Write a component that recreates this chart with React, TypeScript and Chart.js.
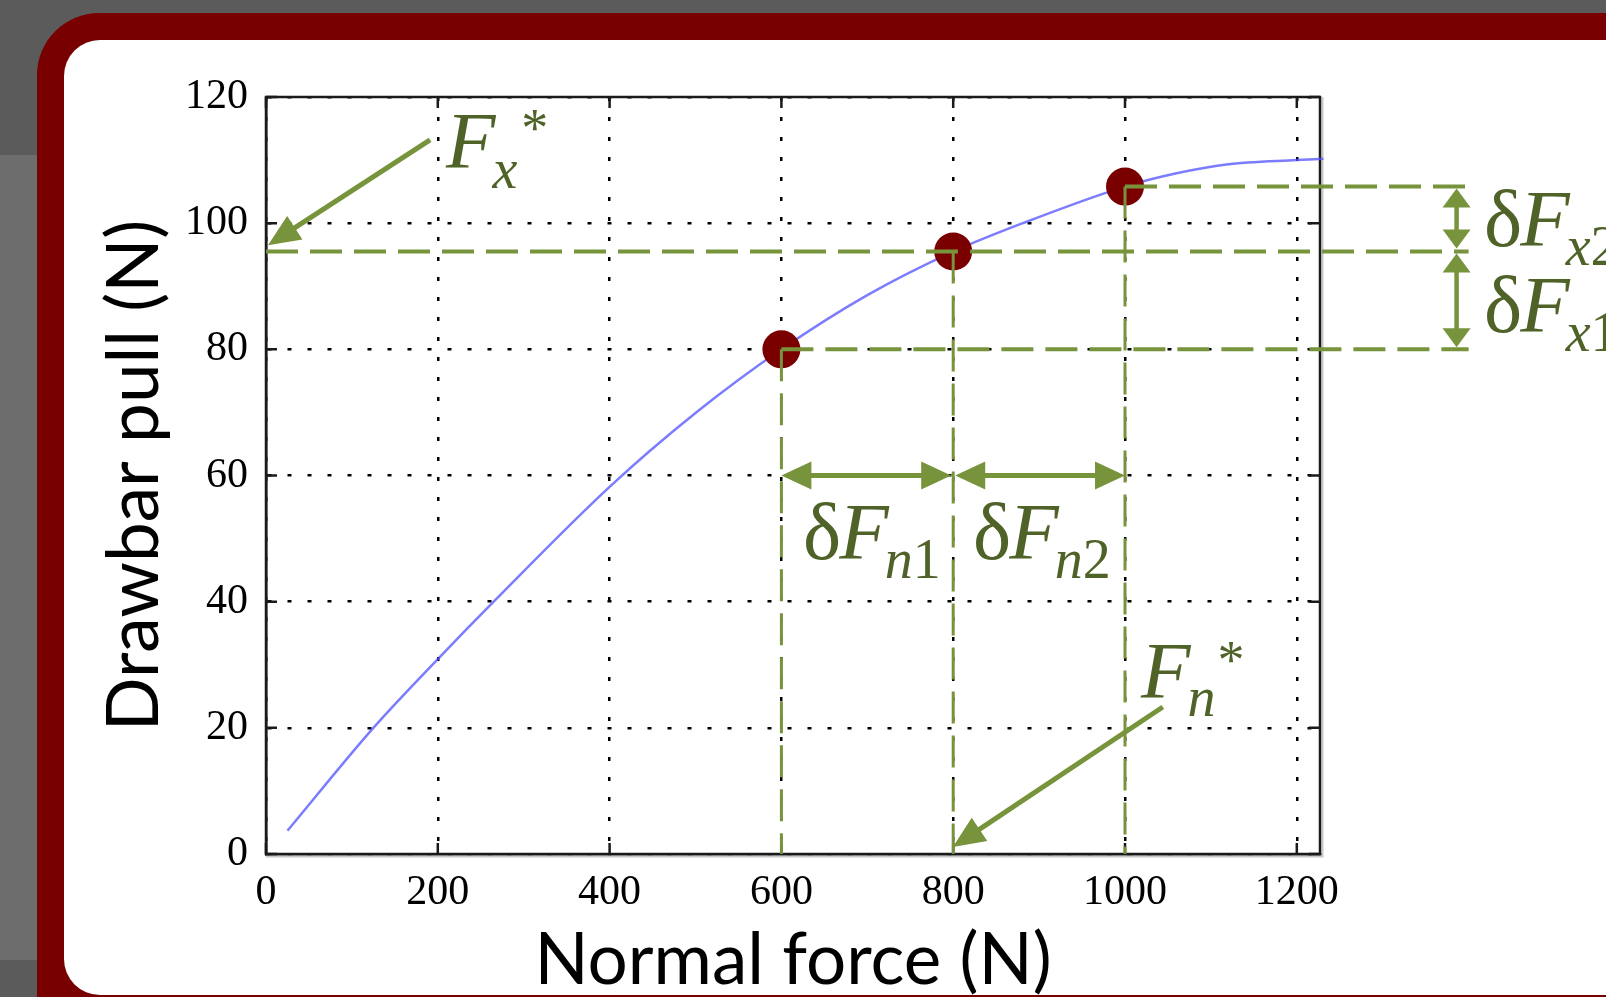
import React, { useEffect, useRef } from "react";
import { Chart, registerables } from "chart.js";

Chart.register(...registerables);

// ---- data ----
const X_TICKS = [0, 200, 400, 600, 800, 1000, 1200];
const Y_TICKS = [0, 20, 40, 60, 80, 100, 120];
const CURVE_X = [25, 125, 200, 265, 400, 500, 600, 700, 800, 881, 1000, 1060, 1118, 1200, 1231];
const CURVE_Y = [3.7, 20, 30.9, 40, 58.2, 69.9, 80, 88.6, 95.5, 100, 105.8, 107.9, 109.3, 110.0, 110.2];
const MARK_X = [600, 800, 1000];
const MARK_Y = [80, 95.5, 105.8];
const GUIDE_END_X = 1400;
const VARROW_X = 1386;
const ARROW_FX = [191, 113.2, 2.3, 96.5];
const ARROW_FN = [1044, 23.3, 799.6, 1.1];
const HARROW_Y = 60;
const X_TITLE = "Normal force (N)";
const Y_TITLE = "Drawbar pull (N)";

const W = 1606;
const H = 997;
const GREEN = "#77933c";
const TEXT_GREEN = "#4f6228";
const SERIF = '"Liberation Serif", "Times New Roman", serif';

function head(ctx: CanvasRenderingContext2D, tx: number, ty: number, fx: number, fy: number, len: number, hw: number) {
  const a = Math.atan2(ty - fy, tx - fx);
  const c = Math.cos(a), s = Math.sin(a);
  const bx = tx - len * c, by = ty - len * s;
  ctx.beginPath();
  ctx.moveTo(tx, ty);
  ctx.lineTo(bx + hw * s, by - hw * c);
  ctx.lineTo(bx - hw * s, by + hw * c);
  ctx.closePath();
  ctx.fill();
}

function arrow(ctx: CanvasRenderingContext2D, x1: number, y1: number, x2: number, y2: number, lw: number, len: number, hw: number, both: boolean) {
  const a = Math.atan2(y2 - y1, x2 - x1);
  const c = Math.cos(a), s = Math.sin(a);
  const sx = both ? x1 + (len - 2) * c : x1;
  const sy = both ? y1 + (len - 2) * s : y1;
  ctx.lineWidth = lw;
  ctx.setLineDash([]);
  ctx.beginPath();
  ctx.moveTo(sx, sy);
  ctx.lineTo(x2 - (len - 2) * c, y2 - (len - 2) * s);
  ctx.stroke();
  head(ctx, x2, y2, x1, y1, len, hw);
  if (both) head(ctx, x1, y1, x2, y2, len, hw);
}

type Part = { t: string; it?: boolean; size: number; dy?: number; dx?: number };
function label(ctx: CanvasRenderingContext2D, x: number, base: number, parts: Part[]) {
  let cx = x;
  ctx.textBaseline = "alphabetic";
  ctx.textAlign = "left";
  for (const p of parts) {
    ctx.font = `${p.it ? "italic " : ""}${p.size}px ${SERIF}`;
    cx += p.dx || 0;
    ctx.fillText(p.t, cx, base + (p.dy || 0));
    cx += ctx.measureText(p.t).width;
  }
}

const decor = {
  id: "decor",
  beforeDraw(chart: any) {
    const ctx = chart.ctx as CanvasRenderingContext2D;
    ctx.save();
    ctx.fillStyle = "#5b5b5b";
    ctx.fillRect(0, 0, W, H);
    ctx.fillStyle = "#6d6d6d";
    ctx.fillRect(0, 155, 40, 805);
    ctx.fillStyle = "#780000";
    ctx.beginPath();
    (ctx as any).roundRect(37, 13, W - 37 + 100, H - 13 + 100, 62);
    ctx.fill();
    ctx.fillStyle = "#ffffff";
    ctx.beginPath();
    (ctx as any).roundRect(64, 40, W - 64 + 100, 995 - 40, 36);
    ctx.fill();
    ctx.restore();
  },
  beforeDatasetsDraw(chart: any) {
    const ctx = chart.ctx as CanvasRenderingContext2D;
    const { left, right, top, bottom } = chart.chartArea;
    const xs = chart.scales.x, ys = chart.scales.y;
    ctx.save();
    ctx.strokeStyle = "#c8c8c8";
    ctx.lineWidth = 2;
    ctx.beginPath();
    ctx.moveTo(right + 2.5, top);
    ctx.lineTo(right + 2.5, bottom + 2.5);
    ctx.lineTo(left, bottom + 2.5);
    ctx.stroke();
    ctx.strokeStyle = "#1a1a1a";
    ctx.lineWidth = 2.5;
    ctx.strokeRect(left, top, right - left, bottom - top);
    ctx.beginPath();
    for (const v of X_TICKS) {
      const p = xs.getPixelForValue(v);
      ctx.moveTo(p, bottom);
      ctx.lineTo(p, bottom - 11);
      ctx.moveTo(p, top);
      ctx.lineTo(p, top + 11);
    }
    for (const v of Y_TICKS) {
      const p = ys.getPixelForValue(v);
      ctx.moveTo(left, p);
      ctx.lineTo(left + 11, p);
      ctx.moveTo(right, p);
      ctx.lineTo(right - 11, p);
    }
    ctx.stroke();
    ctx.restore();
  },
  afterDatasetsDraw(chart: any) {
    const ctx = chart.ctx as CanvasRenderingContext2D;
    const xs = chart.scales.x, ys = chart.scales.y;
    const px = (v: number) => xs.getPixelForValue(v);
    const py = (v: number) => ys.getPixelForValue(v);
    ctx.save();
    ctx.strokeStyle = GREEN;
    ctx.fillStyle = GREEN;
    ctx.lineCap = "butt";
    ctx.lineWidth = 4;
    ctx.setLineDash([32, 12]);
    ctx.beginPath();
    ctx.moveTo(px(0), py(MARK_Y[1]));
    ctx.lineTo(px(GUIDE_END_X), py(MARK_Y[1]));
    ctx.moveTo(px(MARK_X[0]), py(MARK_Y[0]));
    ctx.lineTo(px(GUIDE_END_X), py(MARK_Y[0]));
    ctx.moveTo(px(MARK_X[2]), py(MARK_Y[2]));
    ctx.lineTo(px(GUIDE_END_X), py(MARK_Y[2]));
    ctx.stroke();
    ctx.lineWidth = 3;
    ctx.beginPath();
    for (let i = 0; i < MARK_X.length; i++) {
      ctx.moveTo(px(MARK_X[i]), py(MARK_Y[i]));
      ctx.lineTo(px(MARK_X[i]), py(0));
    }
    ctx.stroke();
    ctx.setLineDash([]);
    arrow(ctx, px(MARK_X[0]), py(HARROW_Y), px(MARK_X[1]) - 2, py(HARROW_Y), 5, 30, 14, true);
    arrow(ctx, px(MARK_X[1]) + 2, py(HARROW_Y), px(MARK_X[2]), py(HARROW_Y), 5, 30, 14, true);
    arrow(ctx, px(VARROW_X), py(MARK_Y[2]) + 2, px(VARROW_X), py(MARK_Y[1]) - 3, 4.5, 19, 14, true);
    arrow(ctx, px(VARROW_X), py(MARK_Y[1]) + 2, px(VARROW_X), py(MARK_Y[0]) - 2, 4.5, 19, 14, true);
    arrow(ctx, px(ARROW_FX[0]), py(ARROW_FX[1]), px(ARROW_FX[2]), py(ARROW_FX[3]), 5, 32, 14, false);
    arrow(ctx, px(ARROW_FN[0]), py(ARROW_FN[1]), px(ARROW_FN[2]), py(ARROW_FN[3]), 5, 32, 14, false);
    ctx.fillStyle = TEXT_GREEN;
    label(ctx, 446, 168, [
      { t: "F", it: true, size: 81 },
      { t: "x", it: true, size: 56, dy: 20, dx: -3 },
      { t: "*", size: 54, dy: -22, dx: 4 },
    ]);
    label(ctx, 1141, 698, [
      { t: "F", it: true, size: 81 },
      { t: "n", it: true, size: 56, dy: 18, dx: -3 },
      { t: "*", size: 54, dy: -20, dx: 2 },
    ]);
    const dF = (x: number, base: number, s1: string, s2: string) =>
      label(ctx, x, base, [
        { t: "δ", size: 81 },
        { t: "F", it: true, size: 81, dx: -2 },
        { t: s1, it: true, size: 56, dy: 19, dx: -4 },
        { t: s2, size: 56, dy: 19 },
      ]);
    dF(1484, 246, "x", "2");
    dF(1484, 332, "x", "1");
    dF(803, 559, "n", "1");
    dF(973, 559, "n", "2");
    ctx.restore();
  },
};

export default function App() {
  const ref = useRef<HTMLCanvasElement | null>(null);
  useEffect(() => {
    if (!ref.current) return;
    const chart = new Chart(ref.current, {
      type: "scatter",
      data: {
        datasets: [
          {
            label: "points",
            data: MARK_X.map((x, i) => ({ x, y: MARK_Y[i] })),
            backgroundColor: "#7a0000",
            borderWidth: 0,
            pointRadius: 19,
            showLine: false,
          },
          {
            label: "curve",
            data: CURVE_X.map((x, i) => ({ x, y: CURVE_Y[i] })),
            showLine: true,
            borderColor: "rgba(80,80,255,0.75)",
            borderWidth: 2.5,
            pointRadius: 0,
            cubicInterpolationMode: "monotone",
            clip: false,
          } as any,
        ],
      },
      options: {
        animation: false,
        responsive: false,
        devicePixelRatio: 1,
        layout: { padding: { left: 0, top: 97, right: 286, bottom: 0 } },
        plugins: { legend: { display: false }, tooltip: { enabled: false } },
        scales: {
          x: {
            type: "linear",
            min: 0,
            max: 1227,
            afterBuildTicks: (s: any) => {
              s.ticks = X_TICKS.map((v) => ({ value: v }));
            },
            afterFit: (s: any) => {
              s.height = 143;
            },
            ticks: {
              autoSkip: false,
              maxRotation: 0,
              includeBounds: false,
              padding: 14,
              color: "#000",
              font: { family: SERIF, size: 42 },
              callback: (v: any) => String(v),
            },
            grid: { color: "#000", lineWidth: 2.5, drawTicks: false },
            border: { display: true, color: "#1a1a1a", width: 2.5, dash: [4, 16] },
            title: {
              display: true,
              text: X_TITLE,
              color: "#000",
              font: { family: "Lato", size: 71, lineHeight: 1 },
              padding: { top: 0, bottom: 0 },
            },
          },
          y: {
            type: "linear",
            min: 0,
            max: 120,
            afterBuildTicks: (s: any) => {
              s.ticks = Y_TICKS.map((v) => ({ value: v }));
            },
            afterFit: (s: any) => {
              s.width = 266;
            },
            ticks: {
              autoSkip: false,
              includeBounds: false,
              padding: 18,
              color: "#000",
              font: { family: SERIF, size: 42 },
              callback: (v: any) => String(v),
            },
            grid: { color: "#000", lineWidth: 2.5, drawTicks: false },
            border: { display: true, color: "#1a1a1a", width: 2.5, dash: [4, 16] },
            title: {
              display: true,
              text: Y_TITLE,
              color: "#000",
              font: { family: "Lato", size: 71, lineHeight: 1 },
              padding: { top: 100, bottom: 0 },
            },
          },
        },
      },
      plugins: [decor],
    } as any);
    return () => chart.destroy();
  }, []);
  return (
    <div style={{ position: "fixed", left: 0, top: 0, width: W, height: H }}>
      <canvas ref={ref} width={W} height={H} style={{ width: W, height: H, display: "block" }} />
    </div>
  );
}
